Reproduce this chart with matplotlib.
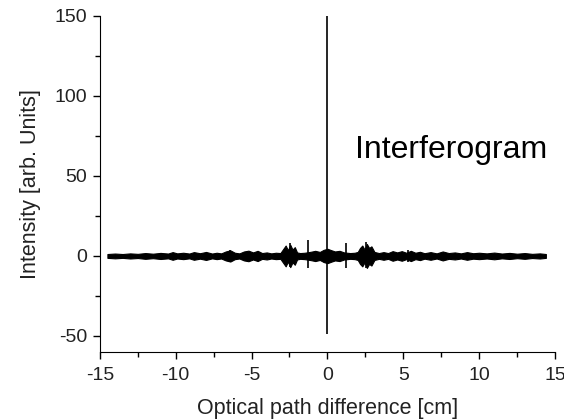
import numpy as np
import matplotlib.pyplot as plt

plt.rcParams['font.family'] = ['Liberation Sans', 'DejaVu Sans']
plt.rcParams['axes.unicode_minus'] = False

# envelope of the interferogram band (half width, arb. units)
env_x = [-14.5, -14.0, -13.5, -13.0, -12.5, -12.0, -11.5, -11.0, -10.5, -10.2, -9.9, -9.5,
         -9.1, -8.8, -8.4, -8.0, -7.6, -7.3, -7.0, -6.7, -6.4, -6.1, -5.8, -5.5,
         -5.2, -4.9, -4.6, -4.3, -4.0, -3.7, -3.4, -3.1, -2.9, -2.75, -2.6, -2.45, -2.3, -2.15,
         -2.0, -1.8, -1.5, -1.1, -0.8, -0.5, -0.25, 0.0, 0.25, 0.5, 0.8, 1.1, 1.5, 1.8,
         2.0, 2.15, 2.3, 2.45, 2.6, 2.75, 2.9, 3.1, 3.4, 3.7, 4.0, 4.3, 4.6, 4.9, 5.2,
         5.5, 5.8, 6.1, 6.4, 6.8, 7.2, 7.6, 8.0, 8.4, 8.8, 9.2, 9.6, 10.0, 10.5,
         11.0, 11.5, 12.0, 12.5, 13.0, 13.5, 14.0, 14.4]
env_amp = [1.2, 1.5, 1.2, 1.6, 1.3, 1.8, 1.4, 1.9, 1.5, 2.4, 1.6, 2.0,
           1.5, 2.4, 1.7, 2.5, 1.5, 2.0, 1.6, 2.8, 3.5, 2.0, 1.6, 2.8,
           3.3, 2.2, 3.2, 1.8, 2.2, 1.6, 2.0, 1.8, 4.5, 6.5, 3.5, 7.0, 4.0, 5.5,
           2.2, 1.8, 2.0, 2.6, 3.2, 2.5, 3.8, 4.5, 3.6, 2.8, 3.2, 2.2, 1.8, 2.0,
           2.5, 5.0, 6.5, 4.0, 7.5, 5.0, 6.0, 2.5, 1.8, 2.4, 1.8, 3.0, 2.2, 3.0, 2.0,
           3.2, 2.0, 2.6, 1.7, 2.4, 1.6, 2.8, 1.8, 2.2, 1.6, 2.4, 1.7, 2.0, 1.6,
           2.1, 1.5, 1.9, 1.4, 1.8, 1.3, 1.6, 1.2]

# narrow spikes: position, top, bottom
spike_x = [0.0, -1.3, 1.25, -2.45, 2.55, -6.4, 5.3]
spike_top = [150, 10, 8, 8, 8.5, 3.5, 3.5]
spike_bot = [-49, -7.5, -7.5, -7, -7.5, -3.5, -3.5]

fig = plt.figure(figsize=(5.64, 4.19), dpi=100)
ax = fig.add_axes([0.177, 0.16, 0.807, 0.802])

ax.fill_between(env_x, -np.array(env_amp), env_amp, color='black', lw=0.8)
ax.vlines(spike_x, spike_bot, spike_top, color='black', lw=1.2)

ax.set_xlim(-15, 15)
ax.set_ylim(-60, 150)
ax.set_xticks([-15, -10, -5, 0, 5, 10, 15])
ax.set_xticks(np.arange(-15, 15.1, 2.5), minor=True)
ax.set_yticks([-50, 0, 50, 100, 150])
ax.set_yticks(np.arange(-50, 151, 25), minor=True)
ax.spines['top'].set_visible(False)
ax.spines['right'].set_visible(False)
ax.tick_params(which='major', direction='out', length=5, width=1, labelsize=14, colors='black')
ax.tick_params(which='minor', direction='out', length=3.5, width=1)
ax.tick_params(axis='x', labelcolor='#222222', pad=6)
ax.tick_params(axis='y', labelcolor='#222222', pad=4)

ax.set_xlabel('Optical path difference [cm]', fontsize=15.5, color='#222222', labelpad=10)
ax.set_ylabel('Intensity [arb. Units]', fontsize=15.5, color='#222222', labelpad=10)

ax.text(1.8, 66, 'Interferogram', fontsize=23, va='center', ha='left')

fig.savefig('out.png', dpi=100)
